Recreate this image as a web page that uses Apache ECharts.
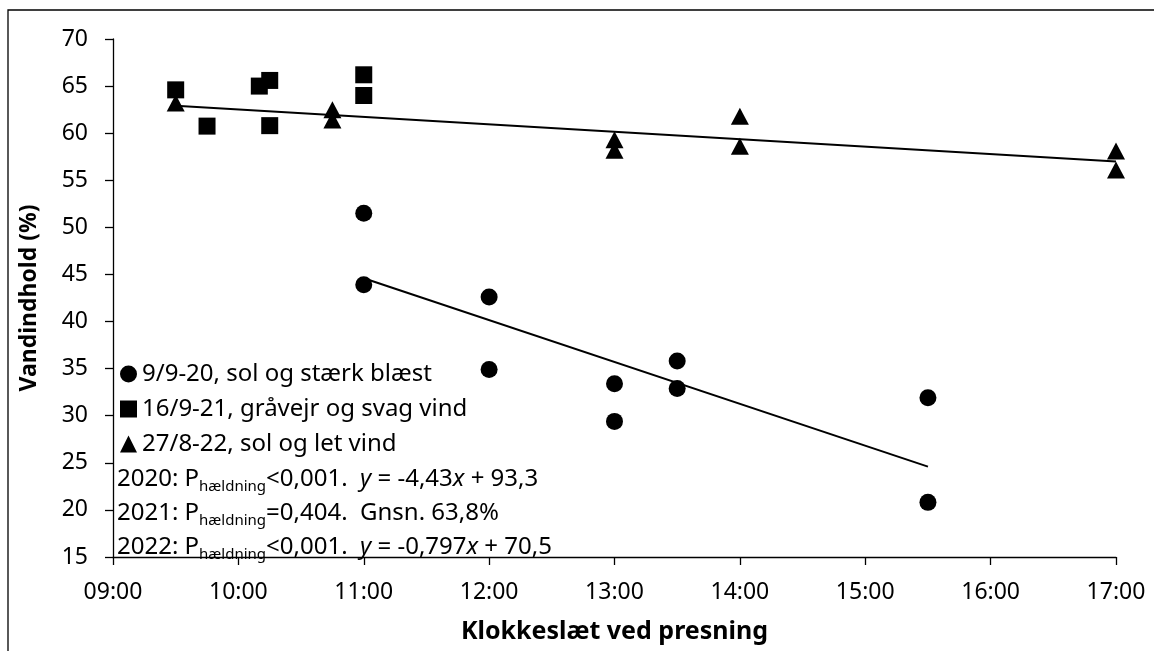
<!DOCTYPE html>
<html><head><meta charset="utf-8">
<script src="https://cdn.jsdelivr.net/npm/echarts@6/dist/echarts.min.js"></script>
<style>html,body{margin:0;padding:0;background:#fff}#c{width:1154px;height:651px}</style>
</head><body><div id="c"></div>
<script>
// ---- data (x = hour of day, y = water content %) ----
const seriesNames = ['9/9-20, sol og stærk blæst', '16/9-21, gråvejr og svag vind', '27/8-22, sol og let vind'];
const s2020 = [[11,51.5],[11,43.9],[12,42.6],[12,34.9],[13,33.4],[13,29.4],[13.5,35.8],[13.5,32.9],[15.5,31.9],[15.5,20.8]];
const s2021 = [[9.5,64.6],[9.75,60.75],[10.167,65.0],[10.25,65.6],[10.25,60.8],[11,66.2],[11,64.0]];
const s2022 = [[9.5,63.2],[10.75,62.5],[10.75,61.4],[13,59.3],[13,58.2],[14,61.8],[14,58.6],[17,58.1],[17,56.1]];
const trend2020 = [[11,44.6],[15.5,24.6]];
const trend2022 = [[9.5,62.9],[17,57.0]];
const xTickLabels = ['09:00','10:00','11:00','12:00','13:00','14:00','15:00','16:00','17:00'];
const yTicks = [15,20,25,30,35,40,45,50,55,60,65,70];
const noteLines = [
  '{n|2020: P}{s|hældning}{n|<0,001.  }{i|y}{n| = -4,43}{i|x}{n| + 93,3}',
  '{n|2021: P}{s|hældning}{n|=0,404.  Gnsn. 63,8%}',
  '{n|2022: P}{s|hældning}{n|<0,001.  }{i|y}{n| = -0,797}{i|x}{n| + 70,5}'
];

const FF = '"Noto Sans", "Open Sans", sans-serif';
const chart = echarts.init(document.getElementById('c'), null, {renderer:'canvas'});
const rich = {
  n: {fontSize: 24, fontFamily: FF, color: '#000', lineHeight: 30, verticalAlign: 'middle'},
  i: {fontSize: 24, fontFamily: FF, color: '#000', fontStyle: 'italic', lineHeight: 30, verticalAlign: 'middle'},
  s: {fontSize: 15, fontFamily: FF, color: '#000', lineHeight: 15, verticalAlign: 'bottom'}
};
chart.setOption({
  animation: false,
  backgroundColor: '#fff',
  grid: {left: 113, right: 38, top: 39, bottom: 94, containLabel: false},
  xAxis: {
    type: 'value', min: 9, max: 17, interval: 1,
    name: 'Klokkeslæt ved presning', nameLocation: 'middle', nameGap: 62,
    nameTextStyle: {fontSize: 25, fontWeight: 'bold', color: '#000', fontFamily: FF},
    axisLine: {show: true, lineStyle: {color: '#000', width: 1.3}},
    axisTick: {show: true, length: 8, lineStyle: {color: '#000', width: 1.3}},
    splitLine: {show: false},
    axisLabel: {fontSize: 23, color: '#000', fontFamily: FF, margin: 24,
      formatter: v => xTickLabels[Math.round(v - 9)]}
  },
  yAxis: {
    type: 'value', min: yTicks[0], max: yTicks[yTicks.length-1], interval: 5,
    name: 'Vandindhold (%)', nameLocation: 'middle', nameGap: 72, nameRotate: 90,
    nameTextStyle: {fontSize: 23, fontWeight: 'bold', color: '#000', fontFamily: FF},
    axisLine: {show: true, lineStyle: {color: '#000', width: 1.3}},
    axisTick: {show: true, length: 8, lineStyle: {color: '#000', width: 1.3}},
    splitLine: {show: false},
    axisLabel: {fontSize: 23, color: '#000', fontFamily: FF, margin: 25}
  },
  legend: {
    orient: 'vertical', left: 115, top: 357, itemWidth: 17, itemHeight: 17, itemGap: 11,
    textStyle: {fontSize: 24, color: '#000', fontFamily: FF},
    itemStyle: {opacity: 1},
    data: [{name: seriesNames[0], icon: 'circle'}, {name: seriesNames[1], icon: 'rect'}, {name: seriesNames[2], icon: 'triangle'}]
  },
  graphic: [
    {type: 'rect', silent: true, shape: {x: 8, y: 10, width: 1300, height: 800},
     style: {fill: 'none', stroke: '#000', lineWidth: 1.3}, z: 0},
    ...noteLines.map((t, k) => ({
      type: 'text', left: 117, top: 467 + k*34, z: 10,
      style: {text: t, rich: rich, fill: '#000'}
    }))
  ],
  series: [
    {name: seriesNames[0], type: 'scatter', data: s2020, symbol: 'circle', symbolSize: 17, itemStyle: {color: '#000', opacity: 1}},
    {name: seriesNames[1], type: 'scatter', data: s2021, symbol: 'rect', symbolSize: 17, itemStyle: {color: '#000', opacity: 1}},
    {name: seriesNames[2], type: 'scatter', data: s2022, symbol: 'triangle', symbolSize: [18,17], itemStyle: {color: '#000', opacity: 1}},
    {name: 'trend2020', type: 'line', data: trend2020, symbol: 'none', lineStyle: {color: '#000', width: 2}, silent: true},
    {name: 'trend2022', type: 'line', data: trend2022, symbol: 'none', lineStyle: {color: '#000', width: 2}, silent: true}
  ]
});
</script></body></html>
